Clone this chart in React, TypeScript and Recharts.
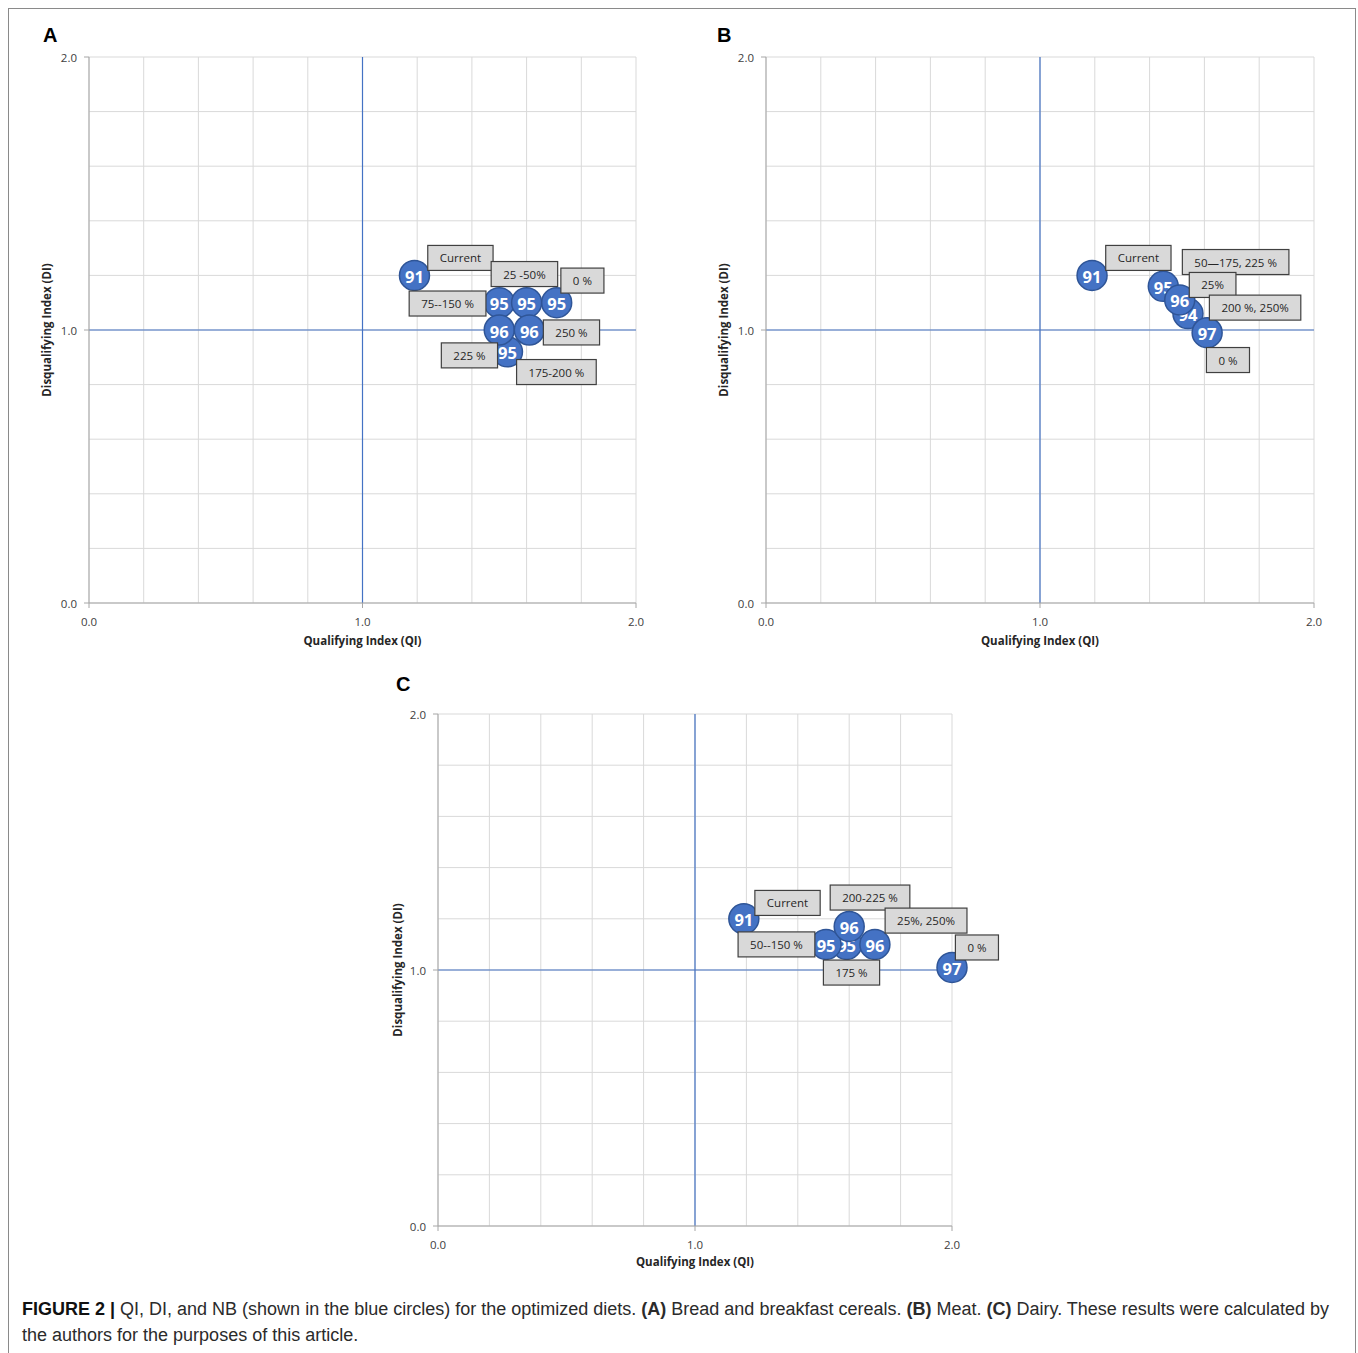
import React from 'react';
import {
  ScatterChart,
  Scatter,
  XAxis,
  YAxis,
  CartesianGrid,
  ReferenceLine,
  ReferenceDot,
  Label,
} from 'recharts';

// grid every 0.2, labels only on the whole numbers
const gridTicks = [0, 0.2, 0.4, 0.6, 0.8, 1, 1.2, 1.4, 1.6, 1.8, 2];
const labelledTicks = [0, 1, 2];

// (A) Bread and breakfast cereals — drawn in this order so overlaps match
const breadPoints = [
  { qi: 1.19, di: 1.2, nb: 91 },
  { qi: 1.53, di: 0.92, nb: 95 },
  { qi: 1.5, di: 1.1, nb: 95 },
  { qi: 1.6, di: 1.1, nb: 95 },
  { qi: 1.71, di: 1.1, nb: 95 },
  { qi: 1.5, di: 1.0, nb: 96 },
  { qi: 1.61, di: 1.0, nb: 96 },
];
const breadLabels = [
  { text: 'Current', qi: 1.358, di: 1.264 },
  { text: '25 -50%', qi: 1.592, di: 1.205 },
  { text: '0 %', qi: 1.804, di: 1.181 },
  { text: '75--150 %', qi: 1.311, di: 1.097 },
  { text: '250 %', qi: 1.764, di: 0.991 },
  { text: '225 %', qi: 1.391, di: 0.907 },
  { text: '175-200 %', qi: 1.709, di: 0.846 },
];

// (B) Meat
const meatPoints = [
  { qi: 1.19, di: 1.2, nb: 91 },
  { qi: 1.45, di: 1.16, nb: 95 },
  { qi: 1.54, di: 1.06, nb: 94 },
  { qi: 1.51, di: 1.11, nb: 96 },
  { qi: 1.61, di: 0.99, nb: 97 },
];
const meatLabels = [
  { text: 'Current', qi: 1.359, di: 1.264 },
  { text: '50\u2014175, 225 %', qi: 1.714, di: 1.249 },
  { text: '25%', qi: 1.63, di: 1.165 },
  { text: '200 %, 250%', qi: 1.785, di: 1.082 },
  { text: '0 %', qi: 1.686, di: 0.89 },
];

// (C) Dairy
const dairyPoints = [
  { qi: 1.19, di: 1.2, nb: 91 },
  { qi: 1.59, di: 1.1, nb: 95 },
  { qi: 1.51, di: 1.1, nb: 95 },
  { qi: 1.6, di: 1.17, nb: 96 },
  { qi: 1.7, di: 1.1, nb: 96 },
  { qi: 2.0, di: 1.01, nb: 97 },
];
const dairyLabels = [
  { text: 'Current', qi: 1.36, di: 1.262 },
  { text: '200-225 %', qi: 1.681, di: 1.283 },
  { text: '25%, 250%', qi: 1.899, di: 1.193 },
  { text: '0 %', qi: 2.097, di: 1.088 },
  { text: '50--150 %', qi: 1.317, di: 1.1 },
  { text: '175 %', qi: 1.609, di: 0.99 },
];

const FONT = '"Open Sans", "Noto Sans", sans-serif';
const BLUE = '#4472c4';
const BOX_FONT_SIZE = 11.5;

let measureCtx: CanvasRenderingContext2D | null = null;
function textWidth(text: string) {
  if (!measureCtx) {
    const c = document.createElement('canvas');
    measureCtx = c.getContext('2d');
  }
  if (!measureCtx) return text.length * 6.4;
  measureCtx.font = `${BOX_FONT_SIZE}px ${FONT}`;
  return measureCtx.measureText(text).width;
}

const XTick = (props: any) => {
  const { x, y, payload } = props;
  if (!labelledTicks.includes(payload.value)) return <g />;
  return (
    <g>
      <line x1={x} x2={x} y1={y} y2={y + 5} stroke="#a6a6a6" />
      <text x={x} y={y + 18} textAnchor="middle" dominantBaseline="central" fontSize={11.5} fontFamily={FONT} fill="#404040">
        {payload.value.toFixed(1)}
      </text>
    </g>
  );
};

const YTick = (props: any) => {
  const { x, y, payload } = props;
  if (!labelledTicks.includes(payload.value)) return <g />;
  return (
    <g>
      <line x1={x - 5} x2={x} y1={y} y2={y} stroke="#a6a6a6" />
      <text x={x - 12} y={y} textAnchor="end" dominantBaseline="central" fontSize={11.5} fontFamily={FONT} fill="#404040">
        {payload.value.toFixed(1)}
      </text>
    </g>
  );
};

const Bubble = (props: any) => {
  const { cx, cy, payload } = props;
  return (
    <g>
      <circle cx={cx} cy={cy} r={15} fill={BLUE} stroke="#2f5597" strokeWidth={1.5} />
      <text x={cx} y={cy + 1} textAnchor="middle" dominantBaseline="central" fontSize={16.5} fontWeight={700} fontFamily={FONT} fill="#fff">
        {payload.nb}
      </text>
    </g>
  );
};

const LabelBox = ({ cx, cy, text }: any) => {
  const w = Math.max(42, textWidth(text) + 24);
  const h = 25;
  return (
    <g>
      <rect x={cx - w / 2} y={cy - h / 2} width={w} height={h} fill="#d9d9d9" stroke="#404040" strokeWidth={1.2} />
      <text x={cx} y={cy} textAnchor="middle" dominantBaseline="central" fontSize={BOX_FONT_SIZE} fontFamily={FONT} fill="#262626">
        {text}
      </text>
    </g>
  );
};

type Pt = { qi: number; di: number; nb: number };
type Lb = { text: string; qi: number; di: number };

function Panel({
  points,
  labels,
  width,
  height,
  margin,
  xAxisHeight,
  yAxisWidth,
}: {
  points: Pt[];
  labels: Lb[];
  width: number;
  height: number;
  margin: { top: number; right: number; bottom: number; left: number };
  xAxisHeight: number;
  yAxisWidth: number;
}) {
  return (
    <ScatterChart width={width} height={height} margin={margin}>
      <CartesianGrid stroke="#d9d9d9" strokeWidth={1} />
      <XAxis
        type="number"
        dataKey="qi"
        domain={[0, 2]}
        ticks={gridTicks}
        interval={0}
        height={xAxisHeight}
        tickLine={false}
        tickSize={0}
        tickMargin={0}
        tick={<XTick />}
        axisLine={{ stroke: '#a6a6a6' }}
      >
        <Label
          value="Qualifying Index (QI)"
          position="center"
          style={{ fontFamily: FONT, fontSize: 11.5, fontWeight: 700, fill: '#262626' }}
        />
      </XAxis>
      <YAxis
        type="number"
        dataKey="di"
        domain={[0, 2]}
        ticks={gridTicks}
        interval={0}
        width={yAxisWidth}
        tickLine={false}
        tickSize={0}
        tickMargin={0}
        tick={<YTick />}
        axisLine={{ stroke: '#a6a6a6' }}
      >
        <Label
          value="Disqualifying Index (DI)"
          position="center"
          angle={-90}
          style={{ fontFamily: FONT, fontSize: 11.5, fontWeight: 700, fill: '#262626', textAnchor: 'middle' }}
        />
      </YAxis>
      <ReferenceLine x={1} stroke={BLUE} strokeWidth={1.2} />
      <ReferenceLine y={1} stroke={BLUE} strokeWidth={1.2} />
      <Scatter data={points} shape={<Bubble />} isAnimationActive={false} />
      {labels.map((l, i) => (
        <ReferenceDot
          key={i}
          x={l.qi}
          y={l.di}
          ifOverflow="visible"
          shape={(p: any) => <LabelBox cx={p.cx} cy={p.cy} text={l.text} />}
        />
      ))}
    </ScatterChart>
  );
}

const letterStyle: React.CSSProperties = {
  position: 'absolute',
  fontFamily: '"Liberation Sans", Arial, sans-serif',
  fontWeight: 700,
  fontSize: 20,
  color: '#000',
};

export default function App() {
  return (
    <div
      style={{
        position: 'absolute',
        left: 0,
        top: 0,
        width: 1358,
        height: 1353,
        background: '#fff',
        overflow: 'hidden',
      }}
    >
      <div
        style={{
          position: 'absolute',
          left: 8,
          top: 8,
          width: 1346,
          height: 1360,
          borderLeft: '1.5px solid #8a8a8a',
          borderTop: '1.5px solid #8a8a8a',
          borderRight: '1.5px solid #8a8a8a',
        }}
      />
      <div style={{ position: 'absolute', left: 0, top: 0 }}>
        <Panel
          points={breadPoints}
          labels={breadLabels}
          width={680}
          height={680}
          margin={{ top: 57, right: 44, bottom: 1, left: 5 }}
          xAxisHeight={76}
          yAxisWidth={84}
        />
      </div>
      <div style={{ position: 'absolute', left: 677, top: 0 }}>
        <Panel
          points={meatPoints}
          labels={meatLabels}
          width={681}
          height={680}
          margin={{ top: 57, right: 44, bottom: 1, left: 5 }}
          xAxisHeight={76}
          yAxisWidth={84}
        />
      </div>
      <div style={{ position: 'absolute', left: 349, top: 657 }}>
        <Panel
          points={dairyPoints}
          labels={dairyLabels}
          width={680}
          height={645}
          margin={{ top: 57, right: 77, bottom: 4, left: 8 }}
          xAxisHeight={72}
          yAxisWidth={81}
        />
      </div>
      <div style={{ ...letterStyle, left: 43, top: 24 }}>A</div>
      <div style={{ ...letterStyle, left: 717, top: 24 }}>B</div>
      <div style={{ ...letterStyle, left: 396, top: 673 }}>C</div>
      <div
        style={{
          position: 'absolute',
          left: 22,
          top: 1296,
          fontFamily: '"Liberation Sans", Arial, sans-serif',
          fontSize: 18,
          lineHeight: '26px',
          color: '#2b2b2b',
          whiteSpace: 'nowrap',
        }}
      >
        <b style={{ color: '#111' }}>FIGURE 2 |</b> QI, DI, and NB (shown in the blue circles) for the optimized diets.{' '}
        <b>(A)</b> Bread and breakfast cereals. <b>(B)</b> Meat. <b>(C)</b> Dairy. These results were calculated by
        <br />
        the authors for the purposes of this article.
      </div>
    </div>
  );
}
